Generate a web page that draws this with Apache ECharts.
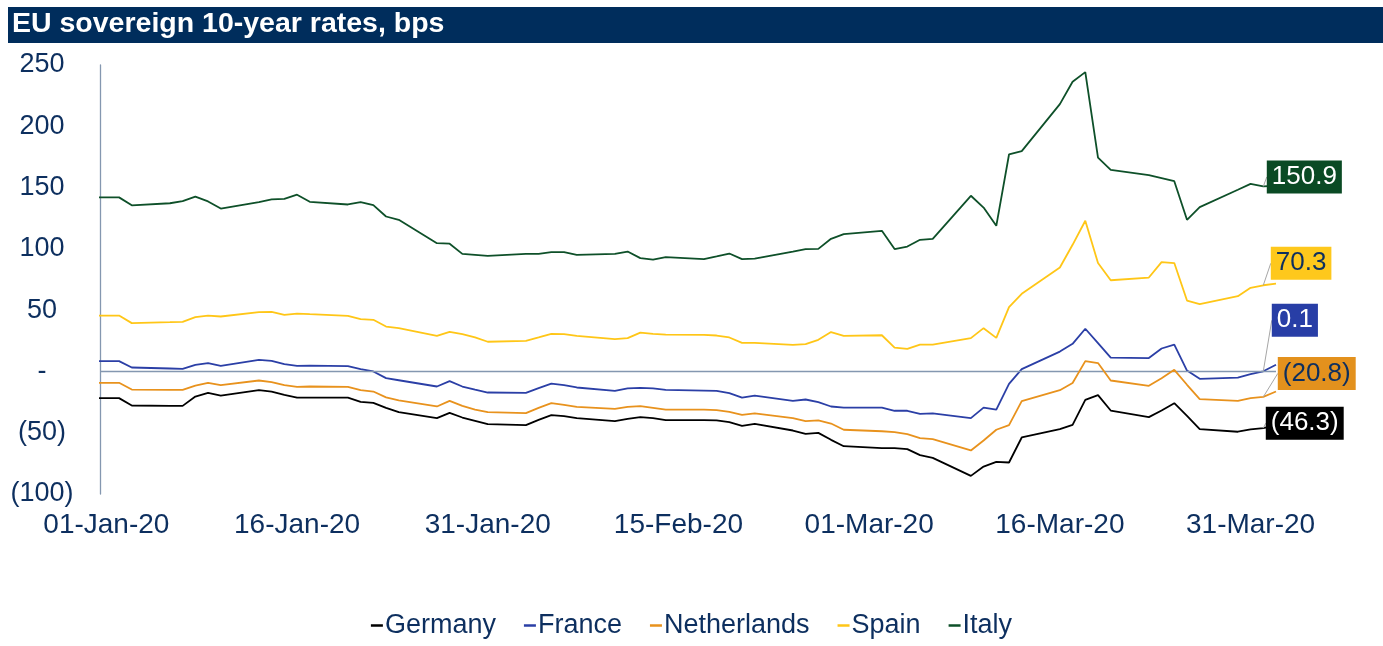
<!DOCTYPE html>
<html>
<head>
<meta charset="utf-8">
<script src="https://cdn.jsdelivr.net/npm/echarts@6/dist/echarts.min.js"></script>
<style>
html,body{margin:0;padding:0;background:#ffffff;}
#chart{width:1383px;height:646px;}
</style>
</head>
<body>
<div id="chart"></div>
<script>
// ---- data (business days, yields in bps) ----
const dates = [
  '2019-12-31','2020-01-01','2020-01-02','2020-01-03',
  '2020-01-06','2020-01-07','2020-01-08','2020-01-09','2020-01-10',
  '2020-01-13','2020-01-14','2020-01-15','2020-01-16','2020-01-17',
  '2020-01-20','2020-01-21','2020-01-22','2020-01-23','2020-01-24',
  '2020-01-27','2020-01-28','2020-01-29','2020-01-30','2020-01-31',
  '2020-02-03','2020-02-04','2020-02-05','2020-02-06','2020-02-07',
  '2020-02-10','2020-02-11','2020-02-12','2020-02-13','2020-02-14',
  '2020-02-17','2020-02-18','2020-02-19','2020-02-20','2020-02-21',
  '2020-02-24','2020-02-25','2020-02-26','2020-02-27','2020-02-28',
  '2020-03-02','2020-03-03','2020-03-04','2020-03-05','2020-03-06',
  '2020-03-09','2020-03-10','2020-03-11','2020-03-12','2020-03-13',
  '2020-03-16','2020-03-17','2020-03-18','2020-03-19','2020-03-20',
  '2020-03-23','2020-03-24','2020-03-25','2020-03-26','2020-03-27',
  '2020-03-30','2020-03-31','2020-04-01','2020-04-02'
];
const germany = [
  -21.8,-21.8,-21.8,-27.8,
  -28.1,-28.1,-20.5,-17.5,-19.7,
  -15.3,-16.4,-19.1,-21.3,-21.3,
  -21.3,-24.8,-25.6,-29.8,-33.2,
  -38.1,-33.8,-37.6,-40.3,-43.0,
  -43.8,-39.5,-35.7,-36.5,-38.1,
  -40.5,-38.7,-37.3,-38.1,-39.7,
  -39.7,-40.0,-41.4,-44.4,-42.8,
  -48.2,-50.9,-50.1,-55.8,-61.0,
  -62.6,-62.6,-63.4,-68.3,-70.5,
  -85.2,-77.6,-73.8,-74.3,-53.9,
  -47.1,-43.6,-23.2,-19.3,-31.9,
  -37.3,-31.9,-25.9,-36.2,-47.1,
  -49.2,-47.3,-46.3,-44.0
];
const france = [
  8.4,8.4,8.4,3.2,
  2.4,2.1,5.4,6.8,4.6,
  9.5,8.6,5.9,4.6,4.8,
  4.3,1.9,0.0,-5.5,-7.2,
  -12.3,-7.9,-12.3,-14.8,-17.2,
  -17.5,-13.6,-9.9,-11.2,-13.1,
  -15.8,-13.9,-13.4,-13.9,-15.0,
  -15.6,-15.8,-17.7,-21.3,-19.7,
  -24.0,-22.9,-25.1,-28.6,-29.5,
  -29.5,-32.1,-32.1,-34.6,-34.3,
  -38.1,-29.5,-31.1,-10.1,1.9,
  16.2,22.5,34.8,23.1,11.3,
  10.9,18.7,21.9,0.7,-6.0,
  -5.0,-2.2,0.1,5.4
];
const netherlands = [
  -9.3,-9.3,-9.3,-14.8,
  -15.0,-15.0,-11.5,-9.3,-11.2,
  -7.4,-8.7,-11.2,-12.6,-12.3,
  -12.6,-15.3,-16.4,-21.2,-23.7,
  -28.6,-24.0,-28.1,-31.1,-33.2,
  -34.0,-29.7,-25.9,-27.3,-28.9,
  -30.5,-28.9,-28.3,-29.7,-31.1,
  -31.1,-31.6,-33.0,-35.4,-34.3,
  -38.1,-40.5,-40.0,-42.5,-47.6,
  -48.8,-49.5,-51.2,-54.4,-55.2,
  -64.5,-56.4,-47.6,-43.8,-24.2,
  -15.3,-9.5,8.4,6.8,-7.4,
  -11.7,-5.5,1.3,-10.9,-22.6,
  -24.0,-21.8,-20.8,-16.4
];
const spain = [
  45.6,45.6,45.6,39.4,
  40.2,40.5,44.3,45.6,44.8,
  48.4,48.6,46.2,47.2,46.7,
  45.4,42.7,42.1,36.6,35.3,
  29.0,32.3,30.4,27.7,24.2,
  25.0,27.7,30.7,30.4,29.0,
  26.4,27.2,31.7,30.7,30.1,
  29.9,29.3,27.7,23.3,23.3,
  21.7,22.3,25.8,32.1,29.0,
  29.5,19.5,18.4,21.9,21.9,
  27.2,35.3,27.4,52.5,63.3,
  84.8,103.3,122.9,88.4,74.4,
  76.6,89.2,88.4,57.8,54.9,
  61.4,68.2,70.3,71.7
];
const italy = [
  142.0,142.0,142.0,135.5,
  137.2,138.9,142.6,138.7,132.9,
  138.2,140.3,140.7,144.2,138.4,
  136.2,138.1,135.7,126.4,123.7,
  104.6,104.2,95.9,95.1,94.3,
  95.9,95.9,97.3,97.3,95.1,
  95.9,97.8,92.4,91.3,93.2,
  91.6,93.8,96.2,91.6,92.1,
  97.8,99.8,100.0,108.2,112.0,
  114.7,99.8,101.9,107.4,108.2,
  143.3,133.7,118.8,177.0,179.7,
  218.1,236.3,244.2,174.5,164.5,
  160.2,157.7,155.2,123.7,134.0,
  148.2,153.0,150.9,151.5
];
const seriesNames = ['Germany','France','Netherlands','Spain','Italy'];
const labelDate = '2020-04-01';
const xTickDates = ['2020-01-01','2020-01-16','2020-01-31','2020-02-15','2020-03-01','2020-03-16','2020-03-31'];
const yTickValues = [-100,-50,0,50,100,150,200,250];

// ---- helpers ----
const DAY = 86400000;
const BASE = Date.UTC(2020,0,1);
function dayIndex(s){ return Math.round((Date.parse(s + 'T00:00:00Z') - BASE) / DAY); }
const MONTHS = ['Jan','Feb','Mar','Apr','May','Jun','Jul','Aug','Sep','Oct','Nov','Dec'];
function fmtDate(v){
  const d = new Date(BASE + Math.round(v) * DAY);
  const dd = String(d.getUTCDate()).padStart(2,'0');
  const yy = String(d.getUTCFullYear()).slice(2);
  return dd + '-' + MONTHS[d.getUTCMonth()] + '-' + yy;
}
function fmtAcc(v){
  if (v === 0) return '-';
  return v < 0 ? '(' + Math.abs(v) + ')' : String(v);
}
function fmtLabel(v){
  return v < 0 ? '(' + Math.abs(v).toFixed(1) + ')' : v.toFixed(1);
}

const NAVY = '#0d2f5f';
const FONT = '"Liberation Sans", Arial, Helvetica, sans-serif';
const styles = {
  Germany:     {color:'#000000', box:'#000000', text:'#ffffff', dx:2.5,  dy:-5},
  France:      {color:'#2b3fa6', box:'#283ea6', text:'#ffffff', dx:8.5,  dy:-51},
  Netherlands: {color:'#e8921d', box:'#e3911d', text:NAVY,      dx:14.5, dy:-23.5},
  Spain:       {color:'#ffc617', box:'#fec81c', text:NAVY,      dx:7.5,  dy:-22},
  Italy:       {color:'#0e5029', box:'#0a4a24', text:'#ffffff', dx:3.5,  dy:-9.5}
};
const valuesByName = {Germany:germany, France:france, Netherlands:netherlands, Spain:spain, Italy:italy};
const labelDay = dayIndex(labelDate);
const days = dates.map(dayIndex);

const series = seriesNames.map(function(name, i){
  const st = styles[name];
  const vals = valuesByName[name];
  const data = vals.map(function(v, k){
    const item = {value:[days[k], v]};
    if (days[k] === labelDay) {
      item.label = {
        show: true,
        position: 'right',
        distance: 0,
        formatter: function(p){ return fmtLabel(p.value[1]); },
        backgroundColor: st.box,
        color: st.text,
        fontFamily: FONT,
        fontSize: 26,
        lineHeight: 27,
        padding: [3,5,3,5]
      };
    }
    return item;
  });
  const s = {
    name: name,
    type: 'line',
    data: data,
    color: st.color,
    showSymbol: true,
    symbol: 'circle',
    symbolSize: 0,
    lineStyle: {width: 1.8, color: st.color},
    itemStyle: {color: st.color},
    label: {show: false},
    labelLayout: {dx: st.dx, dy: st.dy},
    labelLine: {show: true, lineStyle: {color: '#a6a6a6', width: 1}},
    emphasis: {disabled: true},
    silent: true,
    clip: true,
    z: 3 + i
  };
  if (i === 0) {
    s.markLine = {
      silent: true,
      symbol: ['none','none'],
      label: {show: false},
      lineStyle: {color: '#8497b0', width: 1.3, type: 'solid'},
      data: [{yAxis: 0}]
    };
  }
  return s;
});

const chart = echarts.init(document.getElementById('chart'), null, {renderer:'canvas'});
chart.setOption({
  animation: false,
  backgroundColor: '#ffffff',
  graphic: [{
    type: 'rect', left: 8, top: 7, z: 0,
    shape: {width: 1375, height: 36},
    style: {fill: '#002d5c'}
  }],
  title: {
    text: 'EU sovereign 10-year rates, bps',
    left: 12, top: 10, padding: 0, z: 10,
    textStyle: {color: '#ffffff', fontFamily: FONT, fontWeight: 'bold', fontSize: 28.5}
  },
  legend: {
    data: seriesNames,
    left: 'center', top: 607,
    icon: 'rect', itemWidth: 12, itemHeight: 2.5, itemGap: 28,
    selectedMode: false,
    textStyle: {color: NAVY, fontFamily: FONT, fontSize: 27, padding: [0,0,0,-3]}
  },
  grid: {left: 100, right: 107, top: 65, bottom: 152, containLabel: false},
  xAxis: {
    type: 'value',
    min: -0.5, max: dayIndex('2020-04-02'),
    axisLine: {show: false, onZero: false},
    axisTick: {show: false},
    splitLine: {show: false},
    axisLabel: {
      customValues: xTickDates.map(dayIndex),
      formatter: fmtDate,
      color: NAVY, fontFamily: FONT, fontSize: 28, margin: 17
    }
  },
  yAxis: {
    type: 'value',
    min: -100, max: 250, interval: 50,
    axisLine: {show: true, onZero: false, lineStyle: {color: '#8497b0', width: 1.3}},
    axisTick: {show: false},
    splitLine: {show: false},
    axisLabel: {
      customValues: yTickValues,
      formatter: fmtAcc,
      align: 'center', margin: 58,
      color: NAVY, fontFamily: FONT, fontSize: 27
    }
  },
  series: series
});
</script>
</body>
</html>
